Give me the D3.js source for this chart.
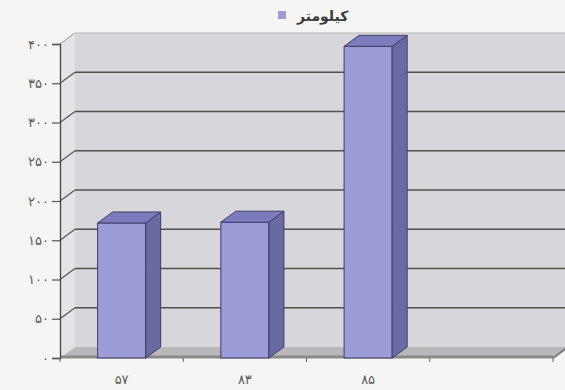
<!DOCTYPE html>
<html>
<head>
<meta charset="utf-8">
<script src="https://cdn.jsdelivr.net/npm/d3@7"></script>
<style>
  body { margin: 0; background: #f5f5f3; }
  svg { display: block; }
</style>
</head>
<body>
<div id="chart"></div>
<script>
// Chart data
var categories = ["57", "83", "85", ""];
var values = [172, 173, 397, null];
var yTicks = [0, 50, 100, 150, 200, 250, 300, 350, 400];
var seriesName = "کیلومتر";

var width = 565;
var height = 390;

// depth offset of the 3D box
var depthX = 15;
var depthY = -11;

var faDigits = "۰۱۲۳۴۵۶۷۸۹";
function toFa(s) {
  return String(s).replace(/[0-9]/g, function(d) { return faDigits[+d]; });
}

var svg = d3.select("#chart").append("svg")
  .attr("width", width)
  .attr("height", height);

// Scales
var xScale = d3.scaleBand()
  .domain(categories)
  .range([60, 553])
  .padding(0);

var yScale = d3.scaleLinear()
  .domain([0, 400])
  .range([358, 44]);

var x0 = xScale.range()[0];
var x1 = xScale.range()[1];
var yBottom = yScale(0);
var yTop = yScale(400);

function pts(arr) {
  return arr.map(function(p) { return p.join(","); }).join(" ");
}

// Walls
var walls = svg.append("g").attr("class", "walls");

// back wall
walls.append("polygon")
  .attr("points", pts([
    [x0 + depthX, yTop + depthY], [width + 5, yTop + depthY],
    [width + 5, yBottom + depthY], [x0 + depthX, yBottom + depthY]
  ]))
  .attr("fill", "#d7d7db");

// side wall
walls.append("polygon")
  .attr("points", pts([
    [x0, yTop], [x0 + depthX, yTop + depthY],
    [x0 + depthX, yBottom + depthY], [x0, yBottom]
  ]))
  .attr("fill", "#e4e4e7");

// floor
walls.append("polygon")
  .attr("points", pts([
    [x0, yBottom], [x0 + depthX, yBottom + depthY],
    [x1 + depthX, yBottom + depthY], [x1, yBottom]
  ]))
  .attr("fill", "#b8b8b8");

walls.append("line")
  .attr("x1", x0).attr("y1", yBottom - 1)
  .attr("x2", x1).attr("y2", yBottom - 1)
  .attr("stroke", "#8a8a8a")
  .attr("stroke-width", 3);

walls.append("line")
  .attr("x1", x1).attr("y1", yBottom)
  .attr("x2", x1 + depthX).attr("y2", yBottom + depthY)
  .attr("stroke", "#7a7a7a")
  .attr("stroke-width", 2);

// Gridlines (back wall + side wall)
var grid = svg.append("g").attr("class", "grid");
var gridTicks = yTicks.filter(function(d) { return d > 0 && d < 400; });

grid.selectAll("line.back")
  .data(gridTicks)
  .enter().append("line")
  .attr("class", "back")
  .attr("x1", x0 + depthX)
  .attr("x2", width + 5)
  .attr("y1", function(d) { return yScale(d) + depthY; })
  .attr("y2", function(d) { return yScale(d) + depthY; })
  .attr("stroke", "#505050")
  .attr("stroke-width", 1.5);

grid.selectAll("line.side")
  .data(gridTicks)
  .enter().append("line")
  .attr("class", "side")
  .attr("x1", x0)
  .attr("x2", x0 + depthX)
  .attr("y1", function(d) { return yScale(d); })
  .attr("y2", function(d) { return yScale(d) + depthY; })
  .attr("stroke", "#555")
  .attr("stroke-width", 1.2);

// top edge of the wall (light)
grid.append("line")
  .attr("x1", x0).attr("y1", yTop)
  .attr("x2", x0 + depthX).attr("y2", yTop + depthY)
  .attr("stroke", "#999").attr("stroke-width", 1);
grid.append("line")
  .attr("x1", x0 + depthX).attr("y1", yTop + depthY)
  .attr("x2", width + 5).attr("y2", yTop + depthY)
  .attr("stroke", "#bbb").attr("stroke-width", 1);

// Y axis
var yAxis = d3.axisLeft(yScale)
  .tickValues(yTicks)
  .tickSize(8)
  .tickPadding(3)
  .tickFormat(toFa);

var yAxisG = svg.append("g")
  .attr("transform", "translate(" + x0 + ",0)")
  .call(yAxis);

yAxisG.select(".domain").attr("stroke", "#444").attr("stroke-width", 1.3);
yAxisG.selectAll(".tick line").attr("stroke", "#555").attr("stroke-width", 1.2);
yAxisG.selectAll(".tick text")
  .attr("fill", "#5a5a5a")
  .style("font-family", "'DejaVu Sans', sans-serif")
  .style("font-size", "13px")
  .style("letter-spacing", "5px");

// X axis ticks (band boundaries)
var boundaries = categories.map(function(c) { return xScale(c); }).concat([x1]);
svg.append("g").selectAll("line")
  .data(boundaries)
  .enter().append("line")
  .attr("x1", function(d) { return d; })
  .attr("x2", function(d) { return d; })
  .attr("y1", yBottom)
  .attr("y2", yBottom + 4)
  .attr("stroke", "#666")
  .attr("stroke-width", 1);

svg.append("g").selectAll("text")
  .data(categories)
  .enter().append("text")
  .attr("x", function(d) { return xScale(d) + xScale.bandwidth() / 2; })
  .attr("y", 384)
  .attr("text-anchor", "middle")
  .attr("fill", "#5a5a5a")
  .style("font-family", "'DejaVu Sans', sans-serif")
  .style("font-size", "13px")
  .style("letter-spacing", "4px")
  .text(function(d) { return toFa(d); });

// 3D bars
var barW = xScale.bandwidth() * 0.39;
var bars = svg.append("g").attr("class", "bars")
  .selectAll("g")
  .data(categories.map(function(c, i) { return { key: c, value: values[i] }; })
    .filter(function(d) { return d.value != null; }))
  .enter().append("g");

function bx(d) { return xScale(d.key) + (xScale.bandwidth() - barW) / 2; }

bars.append("rect")
  .attr("x", bx)
  .attr("y", function(d) { return yScale(d.value); })
  .attr("width", barW)
  .attr("height", function(d) { return yBottom - yScale(d.value); })
  .attr("fill", "#9c9cd8")
  .attr("stroke", "#3e3e6a")
  .attr("stroke-width", 1);

bars.append("polygon")
  .attr("points", function(d) {
    var l = bx(d) + barW, t = yScale(d.value);
    return pts([[l, t], [l + depthX, t + depthY], [l + depthX, yBottom + depthY], [l, yBottom]]);
  })
  .attr("fill", "#6a6aa2")
  .attr("stroke", "#3e3e6a")
  .attr("stroke-width", 1);

bars.append("polygon")
  .attr("points", function(d) {
    var l = bx(d), t = yScale(d.value);
    return pts([[l, t], [l + depthX, t + depthY], [l + barW + depthX, t + depthY], [l + barW, t]]);
  })
  .attr("fill", "#7c7cbc")
  .attr("stroke", "#3e3e6a")
  .attr("stroke-width", 1);

// Legend
var legend = svg.append("g");
legend.append("rect")
  .attr("x", 278).attr("y", 11)
  .attr("width", 8).attr("height", 8)
  .attr("fill", "#9c9cd8");
legend.append("text")
  .attr("x", 297).attr("y", 21)
  .attr("fill", "#3a3a3a")
  .style("font-family", "'DejaVu Sans', sans-serif")
  .style("font-size", "14px")
  .style("font-weight", "bold")
  .text(seriesName);
</script>
</body>
</html>
